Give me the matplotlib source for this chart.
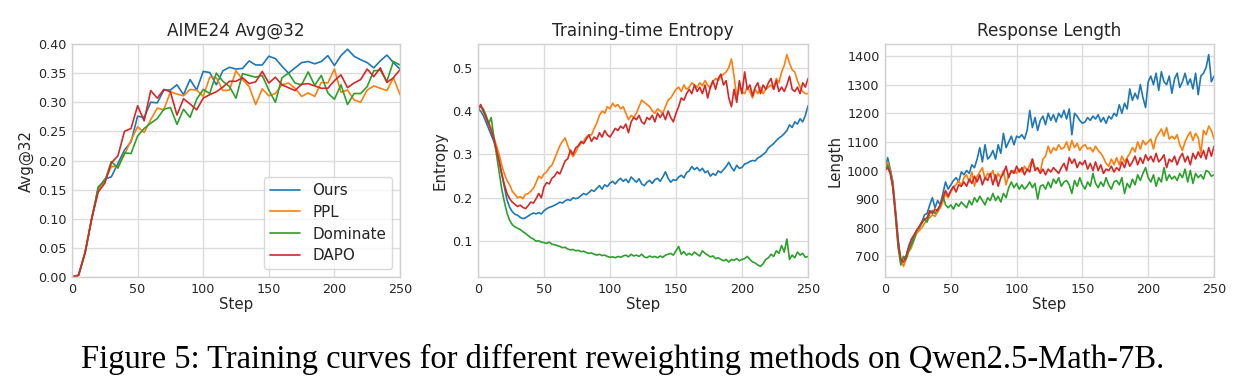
import numpy as np
import matplotlib
matplotlib.use("Agg")
import matplotlib.pyplot as plt
import seaborn as sns

# ---------------- data ----------------
methods = ["Ours", "PPL", "Dominate", "DAPO"]
colors = ["#1f77b4", "#ff7f0e", "#2ca02c", "#d62728"]

aime_steps = list(range(0, 251, 5))
aime_ours = [0.0, 0.003, 0.042, 0.10, 0.152, 0.168, 0.172, 0.195, 0.218, 0.232,
             0.276, 0.274, 0.30, 0.299, 0.321, 0.321, 0.33, 0.313, 0.339, 0.321,
             0.353, 0.351, 0.33, 0.354, 0.36, 0.357, 0.358, 0.371, 0.364, 0.364,
             0.379, 0.375, 0.362, 0.35, 0.359, 0.368, 0.37, 0.366, 0.37, 0.38,
             0.363, 0.38, 0.391, 0.379, 0.373, 0.368, 0.359, 0.371, 0.381, 0.368,
             0.357]
aime_ppl = [0.0, 0.003, 0.042, 0.10, 0.15, 0.165, 0.19, 0.189, 0.21, 0.235,
            0.258, 0.248, 0.27, 0.29, 0.287, 0.318, 0.314, 0.311, 0.322, 0.321,
            0.31, 0.343, 0.342, 0.32, 0.321, 0.354, 0.339, 0.327, 0.296, 0.323,
            0.311, 0.315, 0.33, 0.333, 0.324, 0.31, 0.316, 0.31, 0.334, 0.333,
            0.357, 0.317, 0.321, 0.304, 0.30, 0.321, 0.328, 0.324, 0.32, 0.342,
            0.313]
aime_dom = [0.0, 0.003, 0.042, 0.10, 0.155, 0.165, 0.198, 0.187, 0.213, 0.212,
            0.242, 0.255, 0.264, 0.272, 0.288, 0.291, 0.262, 0.288, 0.274, 0.305,
            0.322, 0.315, 0.35, 0.336, 0.327, 0.307, 0.349, 0.346, 0.343, 0.346,
            0.321, 0.30, 0.342, 0.35, 0.333, 0.33, 0.352, 0.329, 0.346, 0.316,
            0.305, 0.33, 0.296, 0.315, 0.315, 0.327, 0.354, 0.355, 0.336, 0.37,
            0.364]
aime_dapo = [0.0, 0.003, 0.042, 0.10, 0.146, 0.161, 0.196, 0.208, 0.25, 0.255,
             0.294, 0.268, 0.32, 0.307, 0.322, 0.318, 0.278, 0.306, 0.297, 0.287,
             0.307, 0.313, 0.318, 0.326, 0.336, 0.336, 0.342, 0.332, 0.335, 0.353,
             0.333, 0.343, 0.33, 0.325, 0.32, 0.331, 0.332, 0.328, 0.324, 0.324,
             0.337, 0.347, 0.325, 0.333, 0.339, 0.357, 0.344, 0.359, 0.334, 0.342,
             0.356]

dense_steps = list(range(0, 251, 2))
ent_ours = [0.405, 0.40, 0.39, 0.375, 0.36, 0.345, 0.33, 0.31, 0.285, 0.255,
            0.225, 0.195, 0.178, 0.168, 0.162, 0.16, 0.155, 0.152, 0.154, 0.158,
            0.162, 0.165, 0.163, 0.166, 0.163, 0.17, 0.175, 0.178, 0.18, 0.183,
            0.186, 0.19, 0.188, 0.193, 0.196, 0.194, 0.2, 0.198, 0.2, 0.205,
            0.21, 0.207, 0.212, 0.218, 0.215, 0.222, 0.228, 0.22, 0.23, 0.226,
            0.234, 0.238, 0.232, 0.24, 0.245, 0.238, 0.243, 0.235, 0.248, 0.242,
            0.236, 0.244, 0.232, 0.228, 0.236, 0.24, 0.233, 0.242, 0.245, 0.238,
            0.248, 0.26, 0.245, 0.236, 0.242, 0.24, 0.248, 0.252, 0.246, 0.258,
            0.262, 0.272, 0.265, 0.27, 0.262, 0.268, 0.258, 0.262, 0.25, 0.256,
            0.252, 0.262, 0.258, 0.265, 0.272, 0.282, 0.27, 0.262, 0.275, 0.268,
            0.27, 0.278, 0.28, 0.284, 0.286, 0.285, 0.292, 0.295, 0.30, 0.305,
            0.315, 0.32, 0.325, 0.332, 0.338, 0.342, 0.348, 0.355, 0.368, 0.362,
            0.375, 0.37, 0.382, 0.375, 0.39, 0.412]
ent_ppl = [0.405, 0.41, 0.40, 0.39, 0.375, 0.36, 0.34, 0.32, 0.30, 0.275,
           0.255, 0.24, 0.23, 0.215, 0.208, 0.20, 0.203, 0.198, 0.208, 0.21,
           0.215, 0.222, 0.235, 0.25, 0.245, 0.255, 0.26, 0.27, 0.275, 0.29,
           0.305, 0.32, 0.33, 0.338, 0.32, 0.305, 0.295, 0.305, 0.318, 0.325,
           0.33, 0.34, 0.345, 0.345, 0.36, 0.372, 0.39, 0.40, 0.395, 0.41,
           0.405, 0.418, 0.41, 0.415, 0.405, 0.41, 0.395, 0.38, 0.39, 0.385,
           0.395, 0.41, 0.425, 0.42, 0.415, 0.41, 0.40, 0.395, 0.405, 0.40,
           0.395, 0.41, 0.425, 0.43, 0.44, 0.45, 0.455, 0.445, 0.46, 0.45,
           0.455, 0.465, 0.46, 0.455, 0.465, 0.458, 0.47, 0.46, 0.452, 0.468,
           0.475, 0.47, 0.48, 0.485, 0.49, 0.50, 0.52, 0.48, 0.43, 0.455,
           0.445, 0.44, 0.455, 0.445, 0.43, 0.45, 0.44, 0.455, 0.44, 0.45,
           0.455, 0.46, 0.45, 0.475, 0.465, 0.49, 0.505, 0.53, 0.51, 0.495,
           0.49, 0.47, 0.455, 0.445, 0.44, 0.44]
ent_dom = [0.405, 0.41, 0.405, 0.39, 0.37, 0.385, 0.34, 0.30, 0.26, 0.22,
           0.19, 0.165, 0.148, 0.138, 0.133, 0.13, 0.127, 0.122, 0.118, 0.113,
           0.108, 0.105, 0.10, 0.101, 0.098, 0.097, 0.095, 0.098, 0.093, 0.092,
           0.09, 0.088, 0.085, 0.086, 0.082, 0.08, 0.081, 0.078, 0.079, 0.076,
           0.077, 0.074, 0.072, 0.073, 0.07, 0.068, 0.07, 0.067, 0.068, 0.065,
           0.063, 0.064, 0.062, 0.065, 0.063, 0.066, 0.068, 0.064, 0.07, 0.066,
           0.068, 0.065, 0.07, 0.064, 0.062, 0.066, 0.063, 0.065, 0.062, 0.066,
           0.063, 0.068, 0.07, 0.072, 0.068, 0.078, 0.088, 0.07, 0.076, 0.068,
           0.072, 0.068, 0.075, 0.07, 0.066, 0.078, 0.072, 0.068, 0.064, 0.066,
           0.06, 0.062, 0.058, 0.055, 0.058, 0.052, 0.058, 0.056, 0.06, 0.055,
           0.058, 0.06, 0.065, 0.058, 0.052, 0.05, 0.045, 0.042, 0.048, 0.058,
           0.062, 0.07, 0.065, 0.078, 0.072, 0.09, 0.075, 0.105, 0.058, 0.068,
           0.062, 0.075, 0.068, 0.072, 0.063, 0.065]
ent_dapo = [0.405, 0.415, 0.40, 0.385, 0.37, 0.355, 0.335, 0.31, 0.285, 0.255,
            0.23, 0.21, 0.198, 0.19, 0.185, 0.18, 0.183, 0.178, 0.175, 0.182,
            0.19, 0.188, 0.198, 0.21, 0.20, 0.225, 0.235, 0.232, 0.245, 0.25,
            0.26, 0.255, 0.27, 0.285, 0.29, 0.31, 0.30, 0.315, 0.32, 0.33,
            0.325, 0.335, 0.345, 0.33, 0.34, 0.335, 0.35, 0.34, 0.355, 0.345,
            0.34, 0.35, 0.36, 0.355, 0.365, 0.36, 0.37, 0.35, 0.375, 0.385,
            0.38, 0.39, 0.375, 0.37, 0.385, 0.38, 0.39, 0.375, 0.395, 0.385,
            0.395, 0.38, 0.40, 0.385, 0.375, 0.395, 0.41, 0.43, 0.425, 0.44,
            0.45, 0.44, 0.46, 0.445, 0.455, 0.44, 0.46, 0.43, 0.455, 0.47,
            0.45, 0.475, 0.485, 0.46, 0.47, 0.43, 0.41, 0.45, 0.42, 0.47,
            0.44, 0.49, 0.45, 0.46, 0.435, 0.455, 0.465, 0.44, 0.46, 0.45,
            0.465, 0.475, 0.45, 0.47, 0.445, 0.455, 0.445, 0.46, 0.48, 0.45,
            0.445, 0.455, 0.44, 0.465, 0.455, 0.475]

len_ours = [1000, 1045, 1005, 960, 860, 760, 680, 695, 700, 730,
            745, 770, 790, 800, 820, 845, 850, 880, 905, 870,
            895, 880, 920, 960, 935, 950, 965, 975, 960, 995,
            985, 1000, 990, 1020, 1010, 1040, 1080, 1030, 1090, 1040,
            1050, 1070, 1040, 1090, 1060, 1130, 1080, 1100, 1120, 1090,
            1120, 1115, 1125, 1110, 1140, 1210, 1150, 1185, 1140, 1175,
            1190, 1160, 1200, 1175, 1195, 1170, 1200, 1185, 1210, 1180,
            1215, 1125, 1200, 1190, 1175, 1165, 1170, 1185, 1175, 1190,
            1180, 1195, 1170, 1185, 1165, 1190, 1180, 1200, 1190, 1230,
            1200, 1235, 1215, 1285, 1245, 1270, 1250, 1300, 1255, 1220,
            1310, 1330, 1300, 1340, 1280, 1345, 1310, 1300, 1330, 1270,
            1320, 1340, 1290, 1310, 1340, 1300, 1320, 1285, 1340, 1265,
            1330, 1340, 1360, 1405, 1310, 1330]
len_ppl = [1000, 1030, 1000, 950, 850, 740, 690, 665, 690, 715,
           730, 755, 780, 790, 800, 815, 830, 835, 845, 840,
           855, 870, 890, 920, 905, 925, 940, 950, 965, 945,
           975, 985, 960, 995, 945, 980, 995, 1010, 970, 990,
           980, 1000, 965, 990, 975, 1000, 950, 985, 995, 1000,
           990, 1005, 995, 1015, 1000, 1020, 1040, 1010, 1005, 995,
           1040, 1050, 1085, 1060, 1080, 1070, 1090, 1075, 1080, 1100,
           1070, 1105, 1080, 1095, 1070, 1085, 1090, 1075, 1080, 1065,
           1085, 1070, 1060, 1045, 1025, 1015, 1040, 1020, 1045, 1020,
           1050, 1030, 1045, 1060, 1080, 1065, 1100, 1075, 1105, 1090,
           1100, 1110, 1075, 1115, 1130, 1145, 1120, 1150, 1110, 1120,
           1110, 1125, 1090, 1070, 1100, 1120, 1135, 1105, 1130, 1115,
           1060, 1140, 1125, 1155, 1140, 1110]
len_dom = [1000, 1020, 995, 940, 840, 730, 670, 700, 690, 720,
           740, 760, 790, 800, 815, 830, 820, 850, 860, 850,
           865, 880, 910, 880, 870, 880, 865, 885, 875, 890,
           880, 870, 895, 880, 905, 890, 910, 895, 880, 905,
           895, 920, 895, 910, 890, 920, 905, 940, 960, 940,
           955, 935, 950, 935, 945, 960, 940, 955, 900, 945,
           950, 935, 960, 940, 970, 955, 975, 945, 960, 965,
           950, 920, 965, 945, 975, 950, 935, 960, 945, 990,
           955, 940, 960, 945, 975, 950, 935, 960, 965, 950,
           975, 920, 955, 940, 970, 950, 985, 965, 990, 1010,
           975, 960, 985, 945, 975, 960, 1010, 965, 985, 970,
           980, 965, 990, 975, 1005, 960, 1000, 955, 990, 975,
           985, 970, 1000, 995, 980, 985]
len_dapo = [1000, 1010, 990, 940, 850, 750, 690, 680, 700, 735,
            760, 775, 790, 805, 820, 830, 835, 860, 850, 865,
            860, 880, 905, 930, 910, 930, 945, 925, 950, 945,
            960, 945, 970, 955, 980, 960, 985, 950, 975, 965,
            990, 950, 985, 945, 975, 990, 1015, 975, 1000, 990,
            1015, 995, 1010, 985, 1005, 995, 1040, 1000, 1010, 990,
            1005, 985, 1005, 995, 1010, 1000, 990, 1010, 1025, 1000,
            1045, 1025, 1040, 1010, 1030, 1020, 1035, 1005, 1025, 1000,
            1030, 1000, 1020, 990, 1005, 1000, 1015, 995, 1010, 1000,
            1030, 1010, 1040, 1015, 1030, 1050, 1020, 1045, 1025, 1055,
            1035, 1050, 1030, 1060, 1030, 1040, 1055, 1010, 1040, 1030,
            1050, 1020, 1045, 1060, 1030, 1050, 1020, 1060, 1040, 1065,
            1045, 1070, 1040, 1080, 1050, 1085]

panel_titles = ["AIME24 Avg@32", "Training-time Entropy", "Response Length"]
panel_ylabels = ["Avg@32", "Entropy", "Length"]
aime_yticks = [0.00, 0.05, 0.10, 0.15, 0.20, 0.25, 0.30, 0.35, 0.40]
caption = "Figure 5: Training curves for different reweighting methods on Qwen2.5-Math-7B."

# ---------------- style ----------------
sns.set_style("whitegrid")
plt.rcParams["font.family"] = ["DejaVu Sans"]
plt.rcParams["axes.edgecolor"] = "#d0d0d0"
plt.rcParams["grid.color"] = "#dcdcdc"
plt.rcParams["text.color"] = "#262626"
plt.rcParams["axes.labelcolor"] = "#262626"
plt.rcParams["xtick.color"] = "#262626"
plt.rcParams["ytick.color"] = "#262626"

fig = plt.figure(figsize=(12.48, 3.91), dpi=100)
boxes = [(72, 400), (478, 808), (885, 1214)]
axes = []
for (l, r) in boxes:
    ax = fig.add_axes([l / 1248, (391 - 277) / 391, (r - l) / 1248, (277 - 44) / 391])
    axes.append(ax)

series_sets = [
    (aime_steps, [aime_ours, aime_ppl, aime_dom, aime_dapo]),
    (dense_steps, [ent_ours, ent_ppl, ent_dom, ent_dapo]),
    (dense_steps, [len_ours, len_ppl, len_dom, len_dapo]),
]

for i, ax in enumerate(axes):
    xs, ys_list = series_sets[i]
    for name, ys, c in zip(methods, ys_list, colors):
        ax.plot(xs, ys, color=c, lw=1.2, label=name)
    ax.set_xlim(0, 250)
    ax.set_xticks([0, 50, 100, 150, 200, 250])
    ax.set_title(panel_titles[i], fontsize=12.2, pad=6)
    ax.set_xlabel("Step", fontsize=10.8, labelpad=1)
    ax.set_ylabel(panel_ylabels[i], fontsize=10.8, labelpad=3)
    ax.tick_params(axis="both", labelsize=9.2, length=0, pad=4)
    for s in ax.spines.values():
        s.set_linewidth(1.0)
        s.set_color("#d0d0d0")
    ax.grid(True, lw=1.0, color="#dcdcdc")

axes[0].set_ylim(0, 0.40)
axes[0].set_yticks(aime_yticks)
axes[0].set_yticklabels([f"{v:.2f}" for v in aime_yticks])
axes[1].set_yticks([0.1, 0.2, 0.3, 0.4, 0.5])

leg = axes[0].legend(loc="lower right", fontsize=10.9, frameon=True,
                     handlelength=2.0, borderpad=0.4, labelspacing=0.45)
leg.get_frame().set_edgecolor("#d0d0d0")

fig.text(0.4988, (391 - 368) / 391, caption, ha="center", va="baseline",
         fontsize=23.5, family=["Liberation Serif", "DejaVu Serif"], color="black")

fig.savefig("out.png", dpi=100)
